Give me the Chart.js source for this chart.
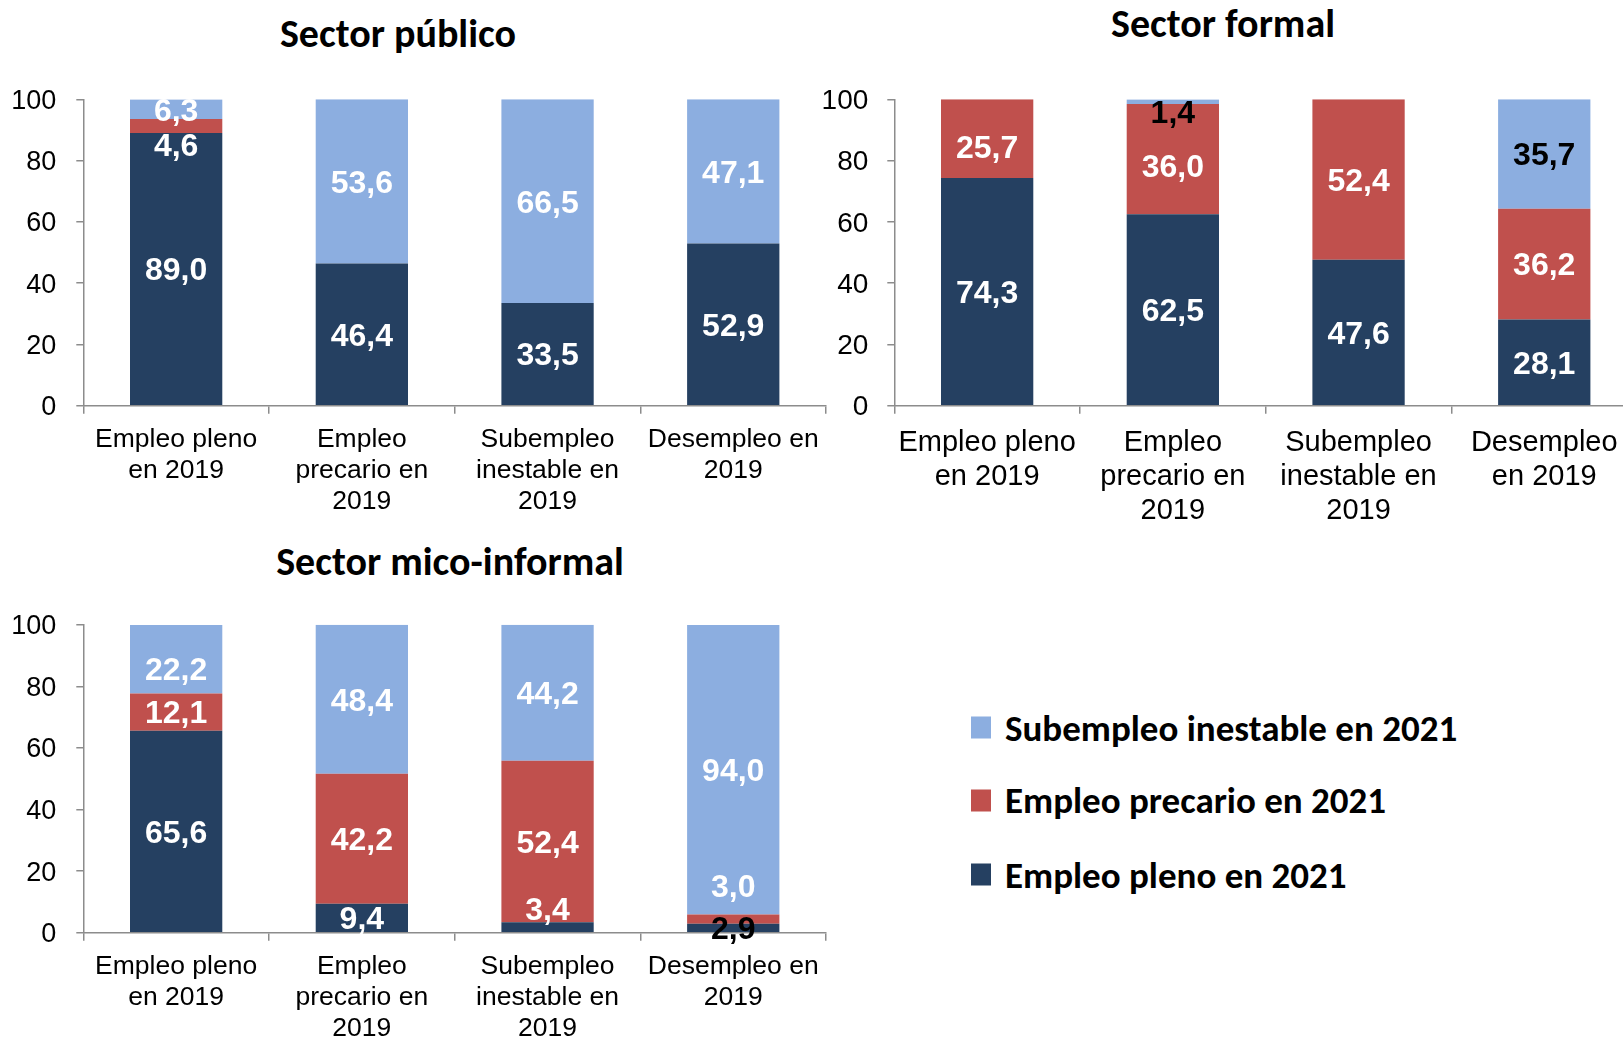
<!DOCTYPE html>
<html lang="es">
<head>
<meta charset="utf-8">
<title>Sectores: transición laboral 2019-2021</title>
<script src="https://cdn.jsdelivr.net/npm/chart.js@4.4.1/dist/chart.umd.min.js"></script>
<style>
  html, body { margin: 0; padding: 0; background: #fff; overflow: hidden; width: 1623px; height: 1037px; }
  canvas.panel { position: absolute; }
  .title {
    position: absolute; transform: translate(-50%, -50%);
    font-family: Carlito, Lato, sans-serif; font-weight: bold; font-size: 40px;
    line-height: 1; color: #000; white-space: nowrap;
  }
  .legend-row {
    position: absolute; display: flex; align-items: center; transform: translateY(-50%);
    font-family: Carlito, Lato, sans-serif; font-weight: bold; font-size: 37px;
    line-height: 1; color: #000; white-space: nowrap;
  }
  .swatch { width: 20px; height: 22px; margin-right: 14px; flex: none; }
</style>
</head>
<body>
<div class="title" style="left:398px; top:34px">Sector público</div>
<div class="title" style="left:1223px; top:24px">Sector formal</div>
<div class="title" style="left:450px; top:562px">Sector mico-informal</div>

<canvas id="chartPublico" class="panel" style="left:0; top:0" width="830" height="530"></canvas>
<canvas id="chartFormal" class="panel" style="left:800px; top:0" width="850" height="530"></canvas>
<canvas id="chartMico" class="panel" style="left:0; top:530px" width="830" height="507"></canvas>
<div id="legend"></div>

<script>
// Situation in 2019 (categories, split over lines)
const categoriesA = [
  ['Empleo pleno', 'en 2019'],
  ['Empleo', 'precario en', '2019'],
  ['Subempleo', 'inestable en', '2019'],
  ['Desempleo en', '2019']
];
const categoriesFormal = [
  ['Empleo pleno', 'en 2019'],
  ['Empleo', 'precario en', '2019'],
  ['Subempleo', 'inestable en', '2019'],
  ['Desempleo', 'en 2019']
];

// Situation in 2021 (series)
const seriesNames = ['Empleo pleno en 2021', 'Empleo precario en 2021', 'Subempleo inestable en 2021'];

// Sector público (%)
const publicoPleno     = [89.0, 46.4, 33.5, 52.9];
const publicoPrecario  = [4.6, null, null, null];
const publicoSubempleo = [6.3, 53.6, 66.5, 47.1];

// Sector formal (%)
const formalPleno     = [74.3, 62.5, 47.6, 28.1];
const formalPrecario  = [25.7, 36.0, 52.4, 36.2];
const formalSubempleo = [null, 1.4, null, 35.7];

// Sector mico-informal (%)
const micoPleno     = [65.6, 9.4, 3.4, 2.9];
const micoPrecario  = [12.1, 42.2, 52.4, 3.0];
const micoSubempleo = [22.2, 48.4, 44.2, 94.0];

const yTicks = [0, 20, 40, 60, 80, 100];

const seriesColors = ['#254061', '#C0504D', '#8CAEE0'];
const axisColor = '#8C8C8C';

const fmt = v => v.toFixed(1).replace('.', ',');

// Writes each segment's value inside its segment
const segmentLabels = {
  id: 'segmentLabels',
  afterDatasetsDraw(chart, args, opts) {
    const ctx = chart.ctx;
    ctx.save();
    ctx.font = opts.font;
    ctx.textAlign = 'center';
    ctx.textBaseline = 'middle';
    chart.data.datasets.forEach((ds, di) => {
      const meta = chart.getDatasetMeta(di);
      meta.data.forEach((bar, i) => {
        const v = ds.data[i];
        if (v === null || v === undefined) return;
        const shift = (opts.shift && opts.shift[di] && opts.shift[di][i]) || 0;
        const dark = opts.dark && opts.dark[di] && opts.dark[di][i];
        ctx.fillStyle = dark ? '#000' : '#fff';
        ctx.fillText(fmt(v), bar.x, (bar.y + bar.base) / 2 + opts.baseShift + shift);
      });
    });
    ctx.restore();
  }
};

function makeChart(id, labels, pleno, precario, subempleo, cfg) {
  const values = [pleno, precario, subempleo];
  const tickFont = { family: "'Liberation Sans', Arial, sans-serif", size: cfg.tickSize, lineHeight: 1.17 };
  return new Chart(document.getElementById(id), {
    type: 'bar',
    data: {
      labels: labels,
      datasets: values.map((d, k) => ({
        label: seriesNames[k],
        data: d,
        backgroundColor: seriesColors[k],
        borderWidth: 0,
        categoryPercentage: 1,
        barPercentage: 0.497
      }))
    },
    options: {
      responsive: false,
      animation: false,
      layout: { padding: { top: cfg.top, right: cfg.right, left: 0, bottom: 0 } },
      plugins: {
        legend: { display: false },
        title: { display: false },
        tooltip: { enabled: false },
        segmentLabels: {
          font: "bold 32px 'Liberation Sans', Arial, sans-serif",
          baseShift: 2.5,
          shift: cfg.shift,
          dark: cfg.dark
        }
      },
      scales: {
        x: {
          stacked: true,
          grid: { offset: true, drawOnChartArea: false, drawTicks: true, tickLength: 8, color: axisColor, lineWidth: 1.5 },
          border: { color: axisColor, width: 1.5 },
          ticks: { color: '#000', font: tickFont, padding: cfg.xPad, maxRotation: 0, autoSkip: false },
          afterFit(s) { s.height = cfg.xHeight; }
        },
        y: {
          stacked: true,
          min: yTicks[0],
          max: yTicks[yTicks.length - 1],
          afterBuildTicks(s) { s.ticks = yTicks.map(v => ({ value: v })); },
          grid: { drawOnChartArea: false, drawTicks: true, tickLength: 7, color: axisColor, lineWidth: 1.5 },
          border: { color: axisColor, width: 1.5 },
          ticks: { color: '#000', font: { family: "'Liberation Sans', Arial, sans-serif", size: cfg.yTickSize }, padding: cfg.yPad, labelOffset: 2 },
          afterFit(s) { s.width = cfg.yWidth; }
        }
      }
    },
    plugins: [segmentLabels]
  });
}

makeChart('chartPublico', categoriesA, publicoPleno, publicoPrecario, publicoSubempleo, {
  top: 99.3, right: 3.9, xHeight: 124.3, yWidth: 83.3, xPad: 10, yPad: 20,
  tickSize: 26.5, yTickSize: 27,
  shift: [[0, 0, 0, 0], [19, 0, 0, 0], [0, 0, 0, 0]],
  dark: [[], [], []]
});

makeChart('chartFormal', categoriesFormal, formalPleno, formalPrecario, formalSubempleo, {
  top: 99.3, right: 12.9, xHeight: 124.3, yWidth: 94.3, xPad: 12.5, yPad: 19,
  tickSize: 29, yTickSize: 28,
  shift: [[0, 0, 0, 0], [8, 7, 0, 0], [0, 10, 0, 0]],
  dark: [[], [], [false, true, false, true]]
});

makeChart('chartMico', categoriesA, micoPleno, micoPrecario, micoSubempleo, {
  top: 94.7, right: 3.9, xHeight: 104.3, yWidth: 83.3, xPad: 10, yPad: 20,
  tickSize: 26.5, yTickSize: 27,
  shift: [[0, 0, -18, 0], [0, 0, 0, -33], [9, 0, 0, 0]],
  dark: [[false, false, false, true], [], []]
});

// Legend, top entry first (stack order reversed)
const legendRows = [727.5, 800, 874.5];
const legend = document.getElementById('legend');
[2, 1, 0].forEach((k, r) => {
  const row = document.createElement('div');
  row.className = 'legend-row';
  row.style.left = '971px';
  row.style.top = legendRows[r] + 'px';
  const sw = document.createElement('span');
  sw.className = 'swatch';
  sw.style.background = seriesColors[k];
  const tx = document.createElement('span');
  tx.textContent = seriesNames[k];
  row.appendChild(sw);
  row.appendChild(tx);
  legend.appendChild(row);
});
</script>
</body>
</html>
